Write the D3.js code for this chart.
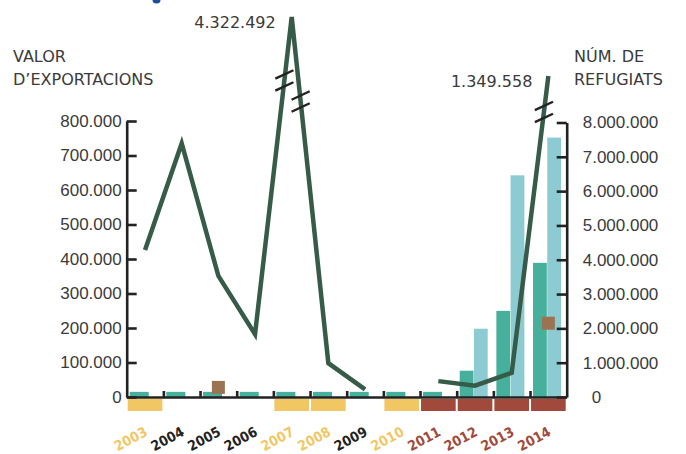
<!DOCTYPE html>
<html>
<head>
<meta charset="utf-8">
<script src="https://cdn.jsdelivr.net/npm/d3@7/dist/d3.min.js"></script>
<style>
body { margin: 0; background: #fff; }
svg { display: block; font-family: "DejaVu Sans", sans-serif; }
.axis text { font-size: 17px; fill: #3a3a3a; }
.axis path, .axis line { stroke: #222; stroke-width: 2.6; }
.axis-title { font-size: 16px; fill: #3a3a3a; }
.peak-label { font-size: 16px; fill: #3a3a3a; }
.year-label { font-family: "DejaVu Sans Condensed", "DejaVu Sans", sans-serif; font-stretch: condensed; font-size: 14px; font-weight: bold; }
</style>
</head>
<body>
<svg class="chart" width="686" height="454"></svg>
<script>
(function () {
'use strict';

var years = [2003, 2004, 2005, 2006, 2007, 2008, 2009, 2010, 2011, 2012, 2013, 2014];
var yearGroups = ['groc', 'negre', 'negre', 'negre', 'groc', 'groc', 'negre', 'groc', 'vermell', 'vermell', 'vermell', 'vermell'];
var exportValues = [426000, 735000, 351000, 182000, 4322492, 98000, 22000, null, 46000, 33000, 70000, 1349558];
var refugeesTeal = [150000, 150000, 150000, 150000, 150000, 150000, 150000, 150000, 150000, 766000, 2510000, 3910000];
var refugeesBlue = [null, null, null, null, null, null, null, null, null, 1990000, 6460000, 7560000];
var markerYears = [2005, 2014];
var markerValues = [280000, 2150000];
var leftTicks = [0, 100000, 200000, 300000, 400000, 500000, 600000, 700000, 800000];
var rightTicks = [0, 1000000, 2000000, 3000000, 4000000, 5000000, 6000000, 7000000, 8000000];
var labelledYears = [2007, 2014];

var COLORS = {
    groc: '#f1c764',
    negre: '#222222',
    vermell: '#a1493a',
    teal: '#47b09c',
    blue: '#8dcbd2',
    marker: '#9a7352',
    line: '#365b49'
};

var svg = d3.select('.chart');
var x0 = 126.7;
var x1 = 566.7;
var baseY = 397;
var topLeft = 121;

var locale = d3.formatLocale({ decimal: ',', thousands: '.', grouping: [3], currency: ['', '€'] });
var fmt = locale.format(',d');

var x = d3.scaleBand().domain(years).range([x0, x1]);
var bw = x.bandwidth();
var yLeftAxis = d3.scaleLinear().domain([0, 800000]).range([baseY, topLeft]);
// the line scale is broken above 800.000 so the two peaks fit
var yLeft = d3.scaleLinear()
    .domain([0, 800000, 1000000, 4500000])
    .range([baseY, topLeft, 83, 13.5]);
var yRight = d3.scaleLinear().domain([0, 8000000]).range([baseY, 122.5]);
var xEdge = d3.scaleLinear().domain([0, years.length]).range([x0, x1]);

var sub = d3.scaleBand().domain(['teal', 'blue']).range([3, 31]).paddingInner(0.03);

function drawBars() {
    var g = svg.append('g').attr('class', 'bars');
    years.forEach(function (year, i) {
        var hasBlue = refugeesBlue[i] != null;
        g.append('rect')
            .attr('x', x(year) + (hasBlue ? sub('teal') : 3))
            .attr('width', hasBlue ? sub.bandwidth() : 19)
            .attr('y', yRight(refugeesTeal[i]))
            .attr('height', baseY - yRight(refugeesTeal[i]))
            .attr('fill', COLORS.teal);
        if (hasBlue) {
            g.append('rect')
                .attr('x', x(year) + sub('blue'))
                .attr('width', sub.bandwidth())
                .attr('y', yRight(refugeesBlue[i]))
                .attr('height', baseY - yRight(refugeesBlue[i]))
                .attr('fill', COLORS.blue);
        }
    });
}

function drawYearStrip() {
    var g = svg.append('g').attr('class', 'year-strip');
    years.forEach(function (year, i) {
        if (yearGroups[i] === 'negre') {
            return;
        }
        g.append('rect')
            .attr('x', x(year) + 1)
            .attr('width', bw - 2)
            .attr('y', 399)
            .attr('height', 12)
            .attr('fill', COLORS[yearGroups[i]]);
    });

    svg.append('g').selectAll('text')
        .data(years)
        .enter().append('text')
        .attr('class', 'year-label')
        .attr('text-anchor', 'end')
        .attr('transform', function (d) { return 'translate(' + (x(d) + bw / 2 + 3.5) + ',435) rotate(-28)'; })
        .attr('fill', function (d, i) { return COLORS[yearGroups[i]]; })
        .text(function (d) { return d; });
}

function drawAxes() {
    svg.append('g')
        .attr('class', 'axis axis--left')
        .attr('transform', 'translate(' + x0 + ',0)')
        .call(d3.axisLeft(yLeftAxis).tickValues(leftTicks).tickSizeInner(-10).tickSizeOuter(0).tickPadding(5).tickFormat(fmt));

    var right = svg.append('g')
        .attr('class', 'axis axis--right')
        .attr('transform', 'translate(' + x1 + ',0)')
        .call(d3.axisRight(yRight).tickValues(rightTicks).tickSizeInner(-10).tickSizeOuter(0).tickPadding(16).tickFormat(fmt));
    right.selectAll('.tick text')
        .filter(function (d) { return d === 0; })
        .attr('dx', 9);

    svg.append('g')
        .attr('class', 'axis axis--bottom')
        .attr('transform', 'translate(0,' + baseY + ')')
        .call(d3.axisTop(xEdge).tickValues(d3.range(1, years.length)).tickSizeInner(6).tickSizeOuter(0).tickFormat(''));
}

function drawMarkers() {
    svg.append('g').selectAll('rect')
        .data(markerYears)
        .enter().append('rect')
        .attr('x', function (d) { return x(d) + bw / 2 - 6.5; })
        .attr('y', function (d, i) { return yRight(markerValues[i]) - 6.5; })
        .attr('width', 13)
        .attr('height', 13)
        .attr('fill', COLORS.marker);
}

function drawBreak(g, ia, ib, t) {
    var ax = x(years[ia]) + bw / 2, ay = yLeft(exportValues[ia]);
    var bx = x(years[ib]) + bw / 2, by = yLeft(exportValues[ib]);
    var cx = ax + (bx - ax) * t;
    var cy = ay + (by - ay) * t;
    var dx = 10 * Math.cos(25 * Math.PI / 180);
    var dy = 10 * Math.sin(25 * Math.PI / 180);
    [-6, 6].forEach(function (off) {
        g.append('line')
            .attr('x1', cx - dx).attr('y1', cy + off + dy)
            .attr('x2', cx + dx).attr('y2', cy + off - dy)
            .attr('stroke', '#222')
            .attr('stroke-width', 2.4);
    });
}

function drawLine() {
    var line = d3.line()
        .defined(function (d) { return d != null; })
        .x(function (d, i) { return x(years[i]) + bw / 2; })
        .y(function (d) { return yLeft(d); });

    svg.append('path')
        .datum(exportValues)
        .attr('d', line)
        .attr('fill', 'none')
        .attr('stroke', COLORS.line)
        .attr('stroke-width', 4.5);

    var g = svg.append('g').attr('class', 'breaks');
    drawBreak(g, 3, 4, 0.8);
    drawBreak(g, 4, 5, 0.244);
    drawBreak(g, 10, 11, 0.879);

    labelledYears.forEach(function (year) {
        var i = years.indexOf(year);
        svg.append('text')
            .attr('class', 'peak-label')
            .attr('text-anchor', 'end')
            .attr('x', x(year) + bw / 2 - 16)
            .attr('y', yLeft(exportValues[i]) + 11)
            .text(fmt(exportValues[i]));
    });
}

function drawTitles() {
    var left = svg.append('text').attr('class', 'axis-title').attr('x', 13);
    left.append('tspan').attr('x', 13).attr('y', 62).text('VALOR');
    left.append('tspan').attr('x', 13).attr('y', 85).text('D\u2019EXPORTACIONS');

    var right = svg.append('text').attr('class', 'axis-title');
    right.append('tspan').attr('x', 574).attr('y', 62).text('NÚM. DE');
    right.append('tspan').attr('x', 574).attr('y', 85).text('REFUGIATS');

    // tail of the heading that sits above the cropped picture
    svg.append('ellipse')
        .attr('cx', 156.5).attr('cy', 0)
        .attr('rx', 4).attr('ry', 3.5)
        .attr('fill', '#1a4e9c');
}

drawBars();
drawYearStrip();
drawAxes();
drawMarkers();
drawLine();
drawTitles();
})();
</script>
</body>
</html>
